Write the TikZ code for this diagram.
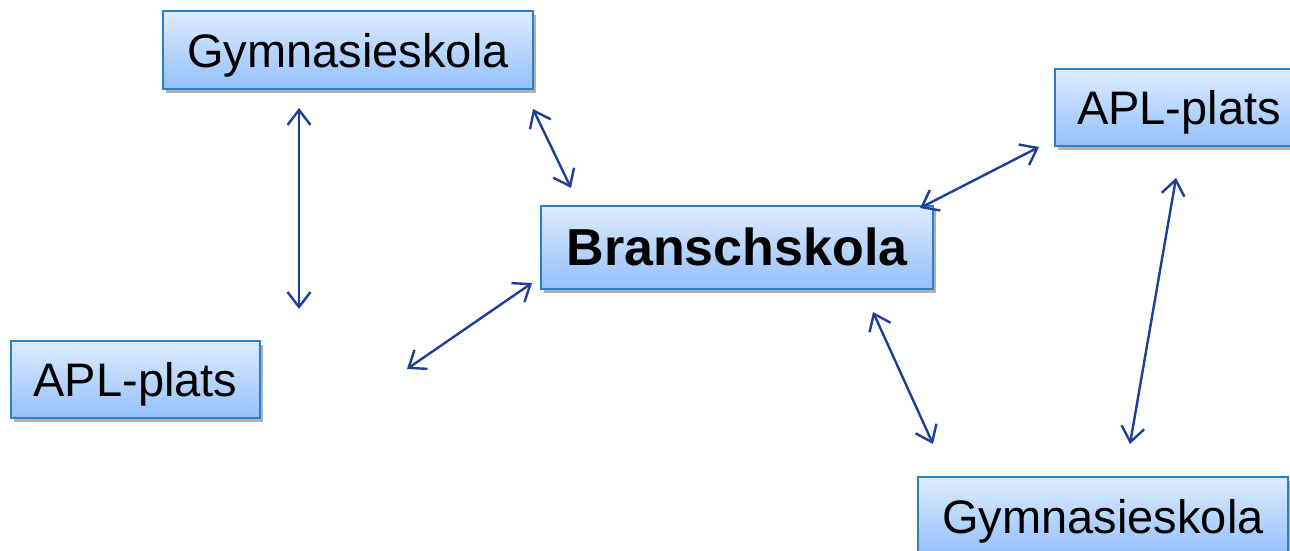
\documentclass[tikz,border=0pt]{standalone}
\usepackage{fontspec}
\setmainfont{Liberation Sans}
\usetikzlibrary{arrows.meta,shadows}
\definecolor{boxtop}{HTML}{DEECFE}
\definecolor{boxbot}{HTML}{94C0FA}
\definecolor{boxline}{HTML}{2A7FC6}
\definecolor{arr}{HTML}{1F3F95}
\begin{document}
\begin{tikzpicture}[x=1pt,y=-1pt,
  box/.style={draw=boxline, line width=2pt, top color=boxtop, bottom color=boxbot,
    inner sep=0pt, text height=34pt, text depth=0pt, font=\fontsize{47}{56}\selectfont,
    drop shadow={shadow xshift=3pt, shadow yshift=-4pt, fill=black, opacity=0.3}},
  link/.style={draw=arr, line width=2.4pt, {Straight Barb[length=15pt,width=23pt]}-{Straight Barb[length=15pt,width=23pt]}}]
\useasboundingbox (0,0) rectangle (1290,551);
\fill[white] (0,0) rectangle (1290,551);
\node[box, minimum width=370pt, minimum height=78pt] (g1) at (348,50) {Gymnasieskola};
\node[box, minimum width=392pt, minimum height=83pt, text height=37pt, font=\fontsize{52}{60}\selectfont\bfseries] (b) at (737,247) {Branschskola};
\node[box, minimum width=249pt, minimum height=77pt] (a1) at (1179,107.5) {APL-plats};
\node[box, minimum width=249pt, minimum height=77pt] (a2) at (135.5,379.5) {APL-plats};
\node[box, minimum width=370pt, minimum height=78pt] (g2) at (1103,516) {Gymnasieskola};
\coordinate (p1) at (299,108);
\coordinate (p2) at (299,309);
\coordinate (q1) at (533,109);
\coordinate (q2) at (571,188);
\coordinate (r1) at (407,369);
\coordinate (r2) at (532,283);
\coordinate (s1) at (920,208);
\coordinate (s2) at (1039,147);
\coordinate (t1) at (873,312);
\coordinate (t2) at (933,444);
\coordinate (u1) at (1176,178);
\coordinate (u2) at (1130,444);
\draw[link] (p1) -- (p2);
\draw[link] (q1) -- (q2);
\draw[link] (r1) -- (r2);
\draw[link] (s1) -- (s2);
\draw[link] (t1) -- (t2);
\draw[link] (u1) -- (u2);
\end{tikzpicture}
\end{document}
